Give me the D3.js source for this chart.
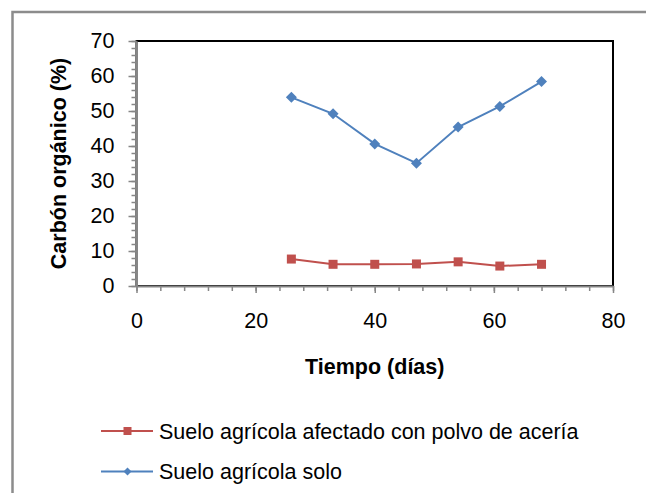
<!DOCTYPE html>
<html>
<head>
<meta charset="utf-8">
<script src="https://cdn.jsdelivr.net/npm/d3@7"></script>
<style>
  body { margin: 0; background: #fff; }
  svg { display: block; font-family: "Liberation Sans", Arial, sans-serif; }
</style>
</head>
<body>
<script>
// values
const dias = [26, 33, 40, 47, 54, 61, 68];
const conPolvo = [7.7, 6.2, 6.2, 6.3, 6.9, 5.7, 6.2];
const soloSuelo = [53.9, 49.2, 40.6, 35.1, 45.4, 51.3, 58.4];
const xTicks = [0, 20, 40, 60, 80];
const yTicks = [0, 10, 20, 30, 40, 50, 60, 70];

const series = [
    { name: "Suelo agrícola afectado con polvo de acería", values: conPolvo, color: "#C0504D", marker: "square" },
    { name: "Suelo agrícola solo", values: soloSuelo, color: "#4F81BD", marker: "diamond" }
];

const width = 646, height = 493;
const plotLeft = 136.5, plotRight = 613, plotTop = 41, plotBottom = 286;
const fontSize = 21.5;

const svg = d3.select("body").append("svg")
    .attr("width", width)
    .attr("height", height);

// outer chart border (runs off the right and bottom of the picture)
svg.append("rect")
    .attr("x", 12.5).attr("y", 12)
    .attr("width", 800).attr("height", 800)
    .attr("fill", "none")
    .attr("stroke", "#8c8c8c")
    .attr("stroke-width", 2.5);

const x = d3.scaleLinear().domain([0, 80]).range([plotLeft, plotRight]);
const y = d3.scaleLinear().domain([0, 70]).range([plotBottom, plotTop]);

// plot area frame (black top and right)
svg.append("rect")
    .attr("x", plotLeft).attr("y", plotTop)
    .attr("width", plotRight - plotLeft).attr("height", plotBottom - plotTop)
    .attr("fill", "none")
    .attr("stroke", "#000")
    .attr("stroke-width", 2);

const axisColor = "#868686";

// minor ticks
svg.append("g")
    .attr("transform", `translate(${plotLeft},0)`)
    .call(d3.axisLeft(y).tickValues(d3.range(0, 71, 2)).tickSize(5).tickFormat(""))
    .call(g => g.select(".domain").remove());
svg.append("g")
    .attr("transform", `translate(0,${plotBottom})`)
    .call(d3.axisBottom(x).tickValues(d3.range(0, 81, 4)).tickSize(5).tickFormat(""))
    .call(g => g.select(".domain").remove());

// major ticks with labels
svg.append("g")
    .attr("transform", `translate(${plotLeft},0)`)
    .call(d3.axisLeft(y).tickValues(yTicks).tickSize(8).tickPadding(14).tickSizeOuter(0));
svg.append("g")
    .attr("transform", `translate(0,${plotBottom})`)
    .call(d3.axisBottom(x).tickValues(xTicks).tickSize(7).tickPadding(20).tickSizeOuter(0));

svg.selectAll("g").selectAll("line").attr("stroke", axisColor).attr("stroke-width", 1.5);
svg.selectAll(".domain").attr("stroke", axisColor).attr("stroke-width", 2);
svg.selectAll(".tick text")
    .attr("font-size", fontSize)
    .attr("font-family", "Liberation Sans, Arial, sans-serif")
    .attr("fill", "#000");

// axis titles
svg.append("text")
    .attr("transform", `translate(66,${(plotTop + plotBottom) / 2}) rotate(-90)`)
    .attr("text-anchor", "middle")
    .attr("font-size", fontSize)
    .attr("font-weight", "bold")
    .text("Carbón orgánico (%)");

svg.append("text")
    .attr("x", (plotLeft + plotRight) / 2)
    .attr("y", 374)
    .attr("text-anchor", "middle")
    .attr("font-size", fontSize)
    .attr("font-weight", "bold")
    .text("Tiempo (días)");

function drawMarker(g, type, cx, cy, size, color) {
    if (type === "square") {
        g.append("rect")
            .attr("x", cx - size / 2).attr("y", cy - size / 2)
            .attr("width", size).attr("height", size)
            .attr("fill", color);
    } else {
        const r = size / 2 + 1;
        g.append("path")
            .attr("d", `M${cx},${cy - r}L${cx + r},${cy}L${cx},${cy + r}L${cx - r},${cy}Z`)
            .attr("fill", color);
    }
}

const line = d3.line()
    .x(d => x(d[0]))
    .y(d => y(d[1]));

series.forEach(s => {
    const pts = dias.map((d, i) => [d, s.values[i]]);
    svg.append("path")
        .datum(pts)
        .attr("d", line)
        .attr("fill", "none")
        .attr("stroke", s.color)
        .attr("stroke-width", 2);
    const mg = svg.append("g");
    pts.forEach(p => drawMarker(mg, s.marker, x(p[0]), y(p[1]), 9, s.color));
});

// legend
const legendY = [431, 471.5];
series.forEach((s, i) => {
    const g = svg.append("g");
    g.append("line")
        .attr("x1", 101).attr("x2", 153)
        .attr("y1", legendY[i]).attr("y2", legendY[i])
        .attr("stroke", s.color)
        .attr("stroke-width", 2);
    drawMarker(g, s.marker, 127.5, legendY[i], s.marker === "square" ? 8 : 6, s.color);
    g.append("text")
        .attr("x", 159)
        .attr("y", legendY[i] + 7.5)
        .attr("font-size", fontSize)
        .text(s.name);
});
</script>
</body>
</html>
